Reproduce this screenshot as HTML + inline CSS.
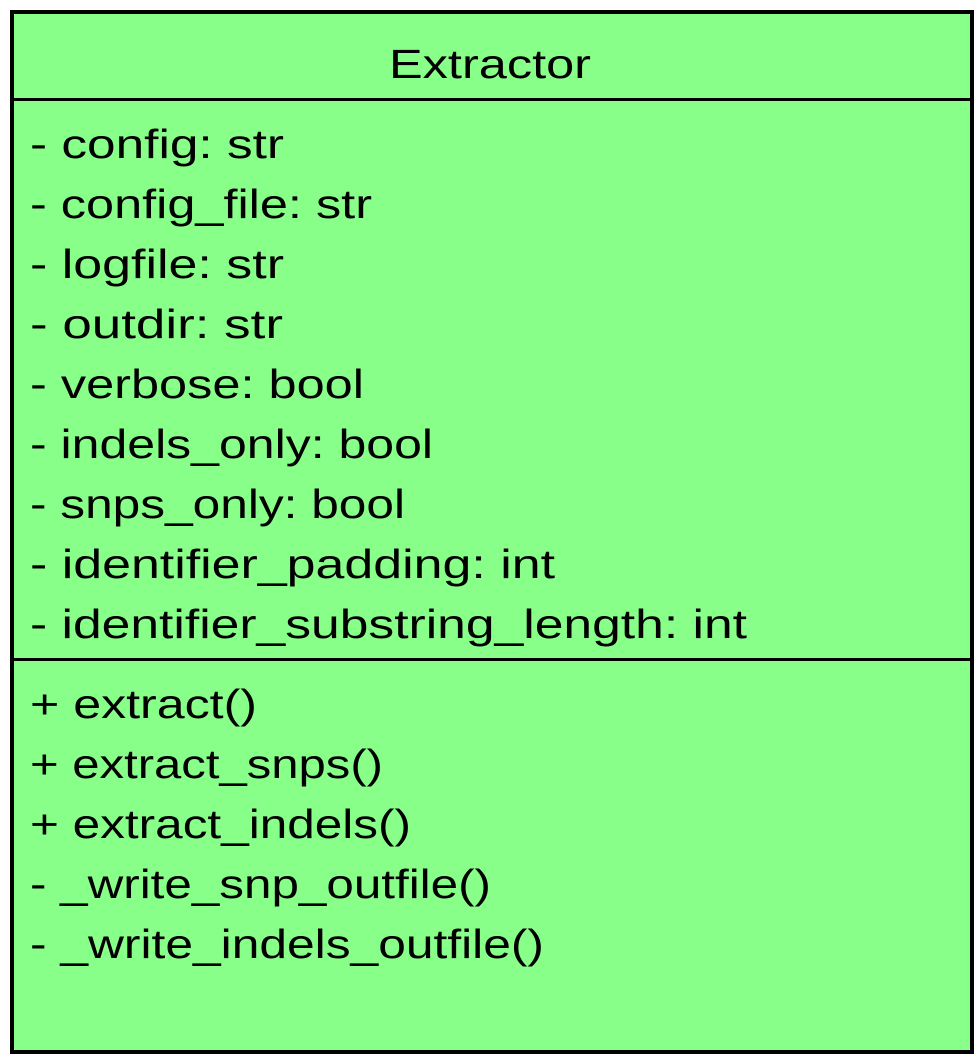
<!DOCTYPE html>
<html><head><meta charset="utf-8"><style>
html,body{margin:0;padding:0;background:#fff;}
svg{display:block;}
text{font-family:"Liberation Sans",sans-serif;font-size:41px;fill:#000;}
</style></head><body>
<svg width="980" height="1060" viewBox="0 0 980 1060" xmlns="http://www.w3.org/2000/svg">
<rect x="12" y="12" width="960" height="1040" fill="#88ff88" stroke="#000" stroke-width="4"/>
<line x1="12" y1="99.5" x2="970" y2="99.5" stroke="#000" stroke-width="3"/>
<line x1="12" y1="659.5" x2="970" y2="659.5" stroke="#000" stroke-width="3"/>
<text x="389" y="78" textLength="202" lengthAdjust="spacingAndGlyphs">Extractor</text>
<text x="30" y="158" textLength="254" lengthAdjust="spacingAndGlyphs">- config: str</text>
<text x="30" y="218" textLength="342" lengthAdjust="spacingAndGlyphs">- config_file: str</text>
<text x="30" y="278" textLength="254" lengthAdjust="spacingAndGlyphs">- logfile: str</text>
<text x="30" y="338" textLength="253" lengthAdjust="spacingAndGlyphs">- outdir: str</text>
<text x="30" y="398" textLength="334" lengthAdjust="spacingAndGlyphs">- verbose: bool</text>
<text x="30" y="458" textLength="403" lengthAdjust="spacingAndGlyphs">- indels_only: bool</text>
<text x="30" y="518" textLength="375" lengthAdjust="spacingAndGlyphs">- snps_only: bool</text>
<text x="30" y="578" textLength="525" lengthAdjust="spacingAndGlyphs">- identifier_padding: int</text>
<text x="30" y="638" textLength="717" lengthAdjust="spacingAndGlyphs">- identifier_substring_length: int</text>
<text x="30" y="718" textLength="227" lengthAdjust="spacingAndGlyphs">+ extract()</text>
<text x="30" y="778" textLength="353" lengthAdjust="spacingAndGlyphs">+ extract_snps()</text>
<text x="30" y="838" textLength="381" lengthAdjust="spacingAndGlyphs">+ extract_indels()</text>
<text x="30" y="898" textLength="461" lengthAdjust="spacingAndGlyphs">- _write_snp_outfile()</text>
<text x="30" y="958" textLength="514" lengthAdjust="spacingAndGlyphs">- _write_indels_outfile()</text>
</svg>
</body></html>
